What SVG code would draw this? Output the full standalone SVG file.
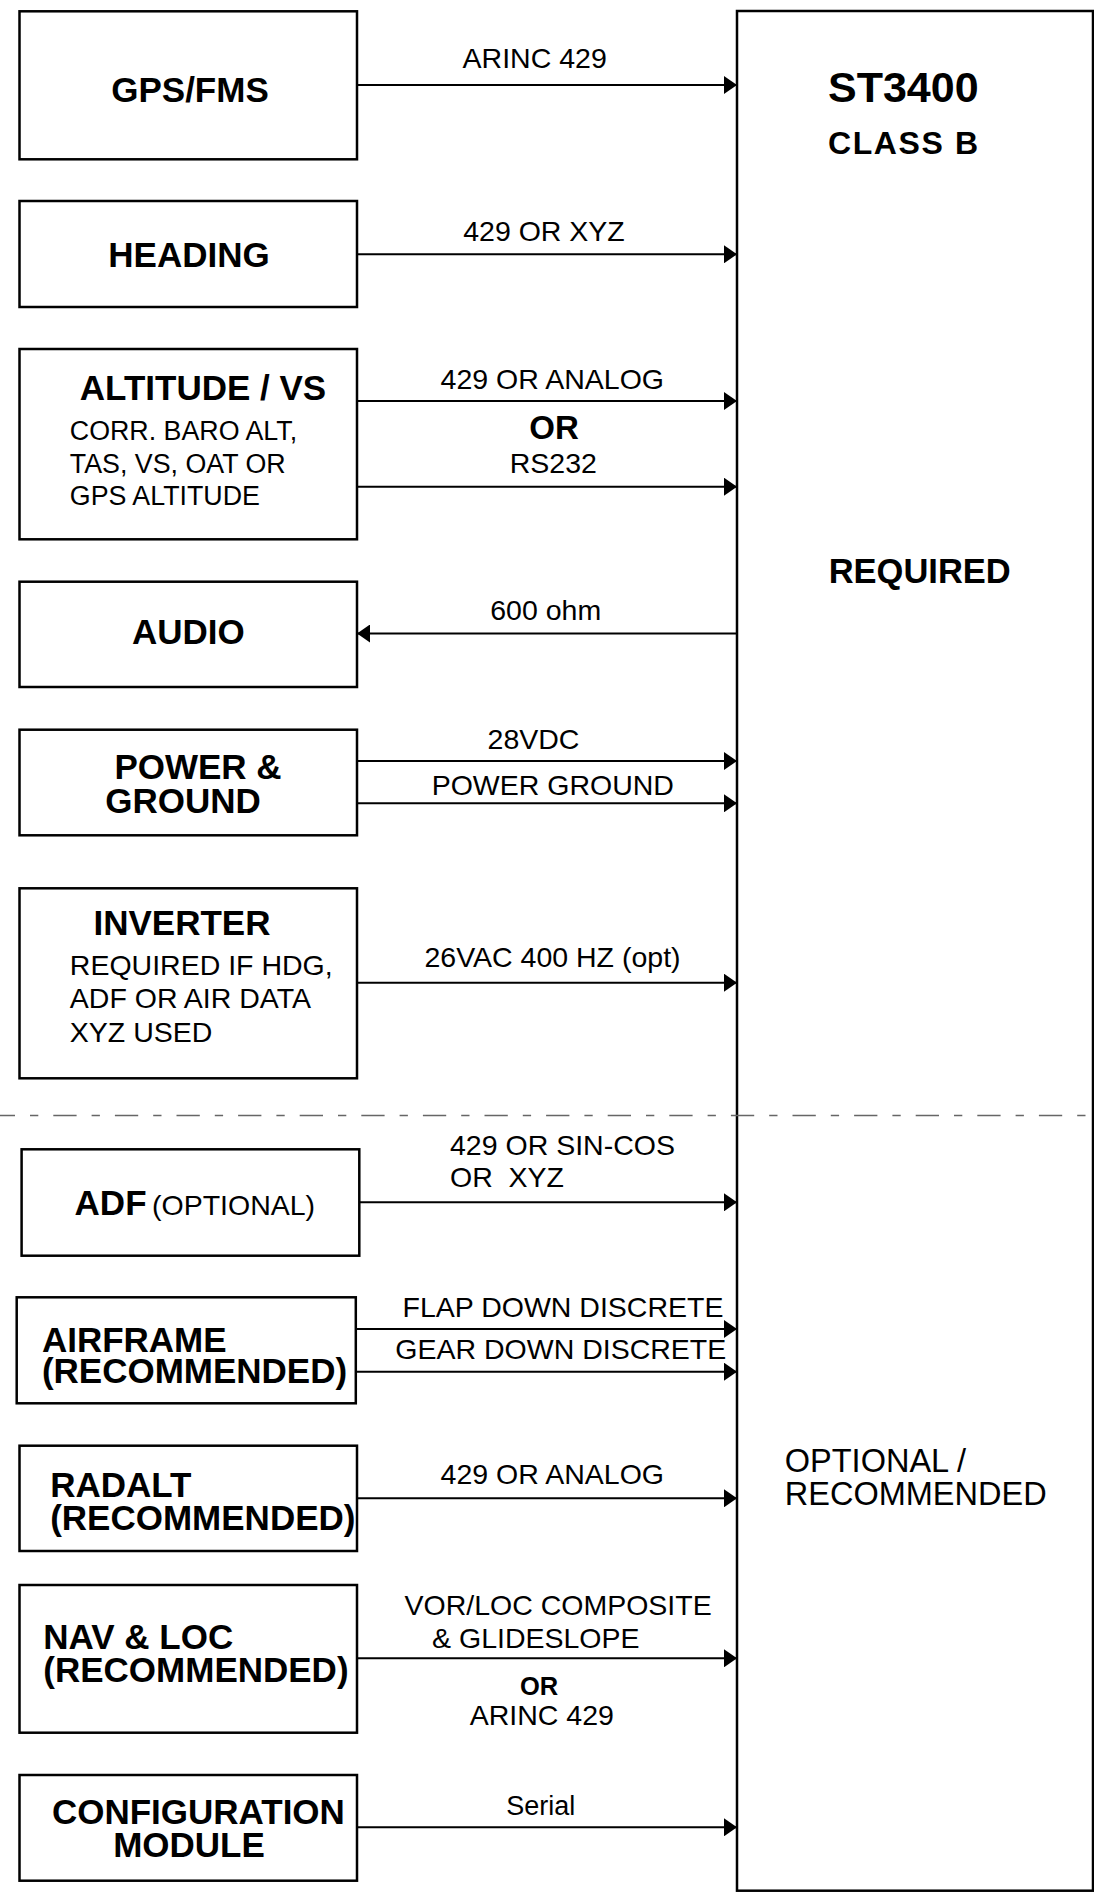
<svg xmlns="http://www.w3.org/2000/svg" width="1094" height="1901" viewBox="0 0 1094 1901">
<style>
text{font-family:"Liberation Sans",Arial,Helvetica,sans-serif;fill:#000}
.b{font-weight:bold;font-size:35px}
.r{font-size:35px;font-weight:bold}
.s{font-size:26.8px}
.c{font-size:28.5px}
.m{text-anchor:middle}
.box{fill:#fff;stroke:#000;stroke-width:2.5}
.ln{stroke:#000;stroke-width:2;fill:none;marker-end:url(#ah)}
</style>
<defs>
<marker id="ah" markerUnits="userSpaceOnUse" markerWidth="13" markerHeight="18" refX="13" refY="9" orient="auto" viewBox="0 0 13 18">
<path d="M0,0 L13,9 L0,18 z" fill="#000"/>
</marker>
</defs>
<rect width="1094" height="1901" fill="#fff"/>

<g id="st3400">
<rect class="box" x="737" y="11" width="356" height="1879.7"/>
<text class="b" x="828" y="101.7" style="font-size:43px">ST3400</text>
<text class="b" x="828" y="154" style="font-size:32px;letter-spacing:1.6px">CLASS B</text>
<text class="b" x="828.7" y="583.3" style="font-size:34.5px">REQUIRED</text>
<text x="784.8" y="1471.7" style="font-size:32.5px">OPTIONAL /</text>
<text x="784.8" y="1505" style="font-size:32.5px">RECOMMENDED</text>
</g>

<line id="divider" x1="0" y1="1115.5" x2="1094" y2="1115.5" stroke="#666" stroke-width="1.5" stroke-dasharray="23.3 15 8.3 15" stroke-dashoffset="8.3"/>

<g id="gps">
<rect class="box" x="19.5" y="11.3" width="337.5" height="148"/>
<text class="b m" x="190" y="101.7">GPS/FMS</text>
</g>
<g id="heading">
<rect class="box" x="19.5" y="201" width="337.5" height="106"/>
<text class="b m" x="189" y="266.7">HEADING</text>
</g>
<g id="altitude">
<rect class="box" x="19.5" y="349" width="337.5" height="190.3"/>
<text class="b m" x="203" y="399.5">ALTITUDE / VS</text>
<text class="s" x="69.8" y="440">CORR. BARO ALT,</text>
<text class="s" x="69.8" y="472.7">TAS, VS, OAT OR</text>
<text class="s" x="69.8" y="505.3">GPS ALTITUDE</text>
</g>
<g id="audio">
<rect class="box" x="19.5" y="581.7" width="337.5" height="105.3"/>
<text class="b m" x="188.3" y="644.3">AUDIO</text>
</g>
<g id="power">
<rect class="box" x="19.5" y="729.7" width="337.5" height="105.6"/>
<text class="b m" x="198" y="779.3">POWER &amp;</text>
<text class="b m" x="183" y="812.7">GROUND</text>
</g>
<g id="inverter">
<rect class="box" x="19.5" y="888.3" width="337.5" height="190"/>
<text class="b m" x="182" y="935">INVERTER</text>
<text class="s" x="69.8" y="975" style="font-size:28.5px">REQUIRED IF HDG,</text>
<text class="s" x="69.8" y="1008.3" style="font-size:28.5px">ADF OR AIR DATA</text>
<text class="s" x="69.8" y="1041.7" style="font-size:28.5px">XYZ USED</text>
</g>
<g id="adf">
<rect class="box" x="21.6" y="1149.3" width="337.7" height="106.4"/>
<text x="74.6" y="1215"><tspan class="b">ADF</tspan><tspan class="c" x="152">(OPTIONAL)</tspan></text>
</g>
<g id="airframe">
<rect class="box" x="16.7" y="1297.3" width="339.1" height="106"/>
<text class="b" x="41.9" y="1351.7">AIRFRAME</text>
<text class="r" x="41.9" y="1383.3">(RECOMMENDED)</text>
</g>
<g id="radalt">
<rect class="box" x="19.5" y="1445.7" width="337.5" height="105.3"/>
<text class="b" x="50.2" y="1497.3">RADALT</text>
<text class="r" x="50.2" y="1530">(RECOMMENDED)</text>
</g>
<g id="navloc">
<rect class="box" x="19.5" y="1585" width="337.5" height="147.7"/>
<text class="b" x="43.3" y="1649.3">NAV &amp; LOC</text>
<text class="r" x="43.3" y="1681.7">(RECOMMENDED)</text>
</g>
<g id="config">
<rect class="box" x="19.5" y="1775" width="337.5" height="105.7"/>
<text class="b m" x="198.4" y="1824.3">CONFIGURATION</text>
<text class="b m" x="189" y="1857">MODULE</text>
</g>

<g id="connectors">
<line class="ln" x1="357" y1="85" x2="737" y2="85"/>
<line class="ln" x1="357" y1="254.3" x2="737" y2="254.3"/>
<line class="ln" x1="357" y1="401" x2="737" y2="401"/>
<line class="ln" x1="357" y1="486.7" x2="737" y2="486.7"/>
<line class="ln" x1="737" y1="633.5" x2="357" y2="633.5"/>
<line class="ln" x1="357" y1="761" x2="737" y2="761"/>
<line class="ln" x1="357" y1="803.3" x2="737" y2="803.3"/>
<line class="ln" x1="357" y1="982.7" x2="737" y2="982.7"/>
<line class="ln" x1="359.3" y1="1202.3" x2="737" y2="1202.3"/>
<line class="ln" x1="355.8" y1="1329" x2="737" y2="1329"/>
<line class="ln" x1="355.8" y1="1371.7" x2="737" y2="1371.7"/>
<line class="ln" x1="357" y1="1498.3" x2="737" y2="1498.3"/>
<line class="ln" x1="357" y1="1658.3" x2="737" y2="1658.3"/>
<line class="ln" x1="357" y1="1827.3" x2="737" y2="1827.3"/>

<text class="c m" x="534.7" y="68.3">ARINC 429</text>
<text class="c m" x="544" y="240.7">429 OR XYZ</text>
<text class="c m" x="552.3" y="389">429 OR ANALOG</text>
<text class="b m" x="554" y="439.3" style="font-size:33px">OR</text>
<text class="c m" x="553.3" y="472.7">RS232</text>
<text class="c m" x="545.7" y="620">600 ohm</text>
<text class="c m" x="533.5" y="749.3">28VDC</text>
<text class="c m" x="552.8" y="795">POWER GROUND</text>
<text class="c m" x="552.5" y="966.7">26VAC 400 HZ (opt)</text>
<text class="c" x="450" y="1155">429 OR SIN-COS</text>
<text class="c" x="450" y="1186.7" xml:space="preserve">OR  XYZ</text>
<text class="c m" x="563" y="1317.3">FLAP DOWN DISCRETE</text>
<text class="c m" x="560.8" y="1359">GEAR DOWN DISCRETE</text>
<text class="c m" x="552.3" y="1484">429 OR ANALOG</text>
<text class="c m" x="558.1" y="1615">VOR/LOC COMPOSITE</text>
<text class="c m" x="535.8" y="1648.3">&amp; GLIDESLOPE</text>
<text class="b m" x="539" y="1695" style="font-size:25.5px">OR</text>
<text class="c m" x="541.8" y="1725">ARINC 429</text>
<text class="m" x="540.7" y="1815" style="font-size:27px">Serial</text>
</g>
</svg>
